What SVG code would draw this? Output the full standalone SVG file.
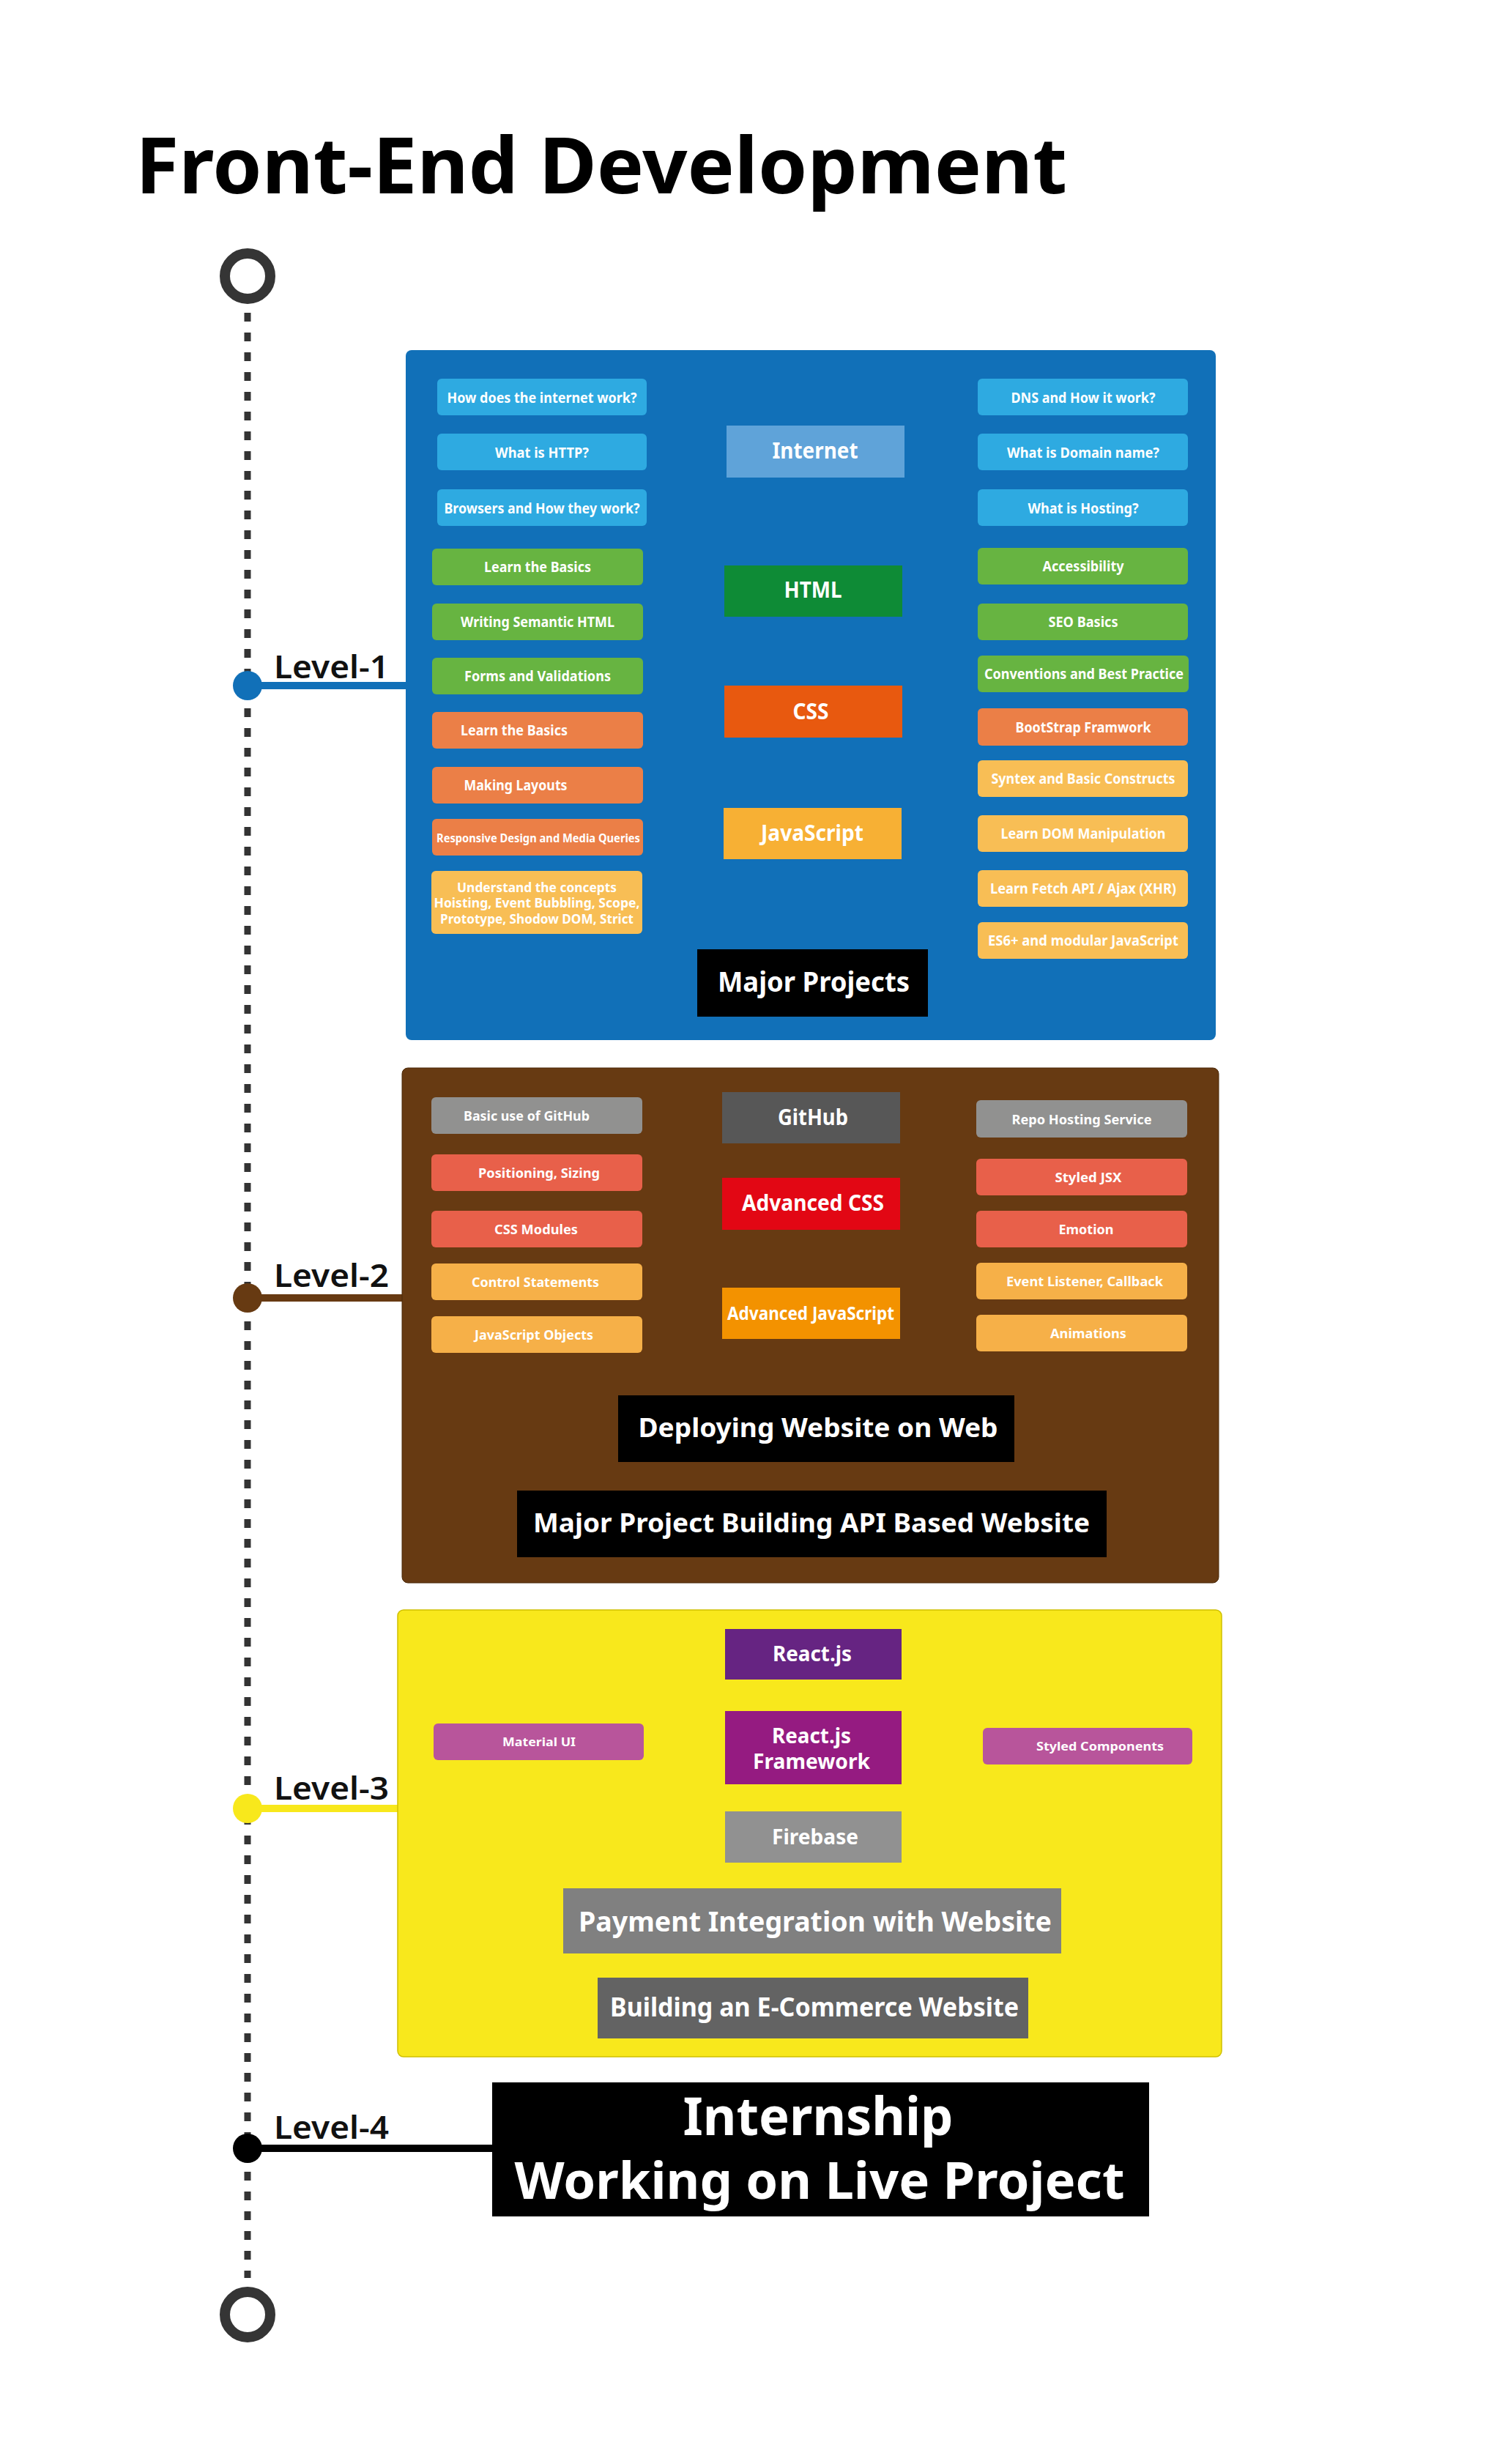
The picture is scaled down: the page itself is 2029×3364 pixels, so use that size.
<svg xmlns="http://www.w3.org/2000/svg" width="2029" height="3364" viewBox="0 0 2029 3364">
<style>
text { font-family: "Noto Sans", "Open Sans", "DejaVu Sans", sans-serif; font-weight: 700; fill: #ffffff; text-anchor: middle; }
.it { font-size: 19px; }
.it2 { font-size: 18px; }
.sm { font-size: 16.5px; }
.ctr { font-size: 30px; }
.ctr2 { font-size: 28px; }
.big { font-size: 37px; }
.huge { font-size: 72px; }
.lvl { font-size: 44px; font-weight: 600; fill: #111111; text-anchor: start; }
.title { font-size: 106px; fill: #000000; text-anchor: start; }
.lb { fill: #2eaae1; }
.gr { fill: #67b441; }
.or { fill: #eb7f47; }
.ye { fill: #f8be55; }
.gy { fill: #919190; }
.rd { fill: #e8604a; }
.yo { fill: #f6b048; }
.mg { fill: #b8559b; }
.blk { fill: #000000; }
</style>
<rect x="0" y="0" width="2029" height="3364" fill="#ffffff"/>

<g id="title">
<text class="title" x="185" y="264" textLength="1272" lengthAdjust="spacingAndGlyphs">Front-End Development</text>
</g>

<g id="connectors">
<line x1="338" y1="427" x2="338" y2="3110" stroke="#333333" stroke-width="9" stroke-dasharray="12 15"/>
<line x1="338" y1="936" x2="556" y2="936" stroke="#1170b8" stroke-width="10"/>
<line x1="338" y1="1772" x2="551" y2="1772" stroke="#673a12" stroke-width="10"/>
<line x1="338" y1="2469" x2="545" y2="2469" stroke="#f8e81c" stroke-width="10"/>
<line x1="338" y1="2933" x2="674" y2="2933" stroke="#000000" stroke-width="10"/>
</g>

<g id="start">
<circle cx="338" cy="377" r="31" fill="#ffffff" stroke="#353535" stroke-width="14"/>
</g>
<g id="end">
<circle cx="338" cy="3160" r="31" fill="#ffffff" stroke="#353535" stroke-width="14"/>
</g>

<g id="level-1-marker">
<circle cx="338" cy="936" r="20" fill="#1170b8"/>
<text class="lvl" x="374" y="926" textLength="157" lengthAdjust="spacingAndGlyphs">Level-1</text>
</g>
<g id="level-2-marker">
<circle cx="338" cy="1772" r="20" fill="#673a12"/>
<text class="lvl" x="374" y="1757" textLength="157" lengthAdjust="spacingAndGlyphs">Level-2</text>
</g>
<g id="level-3-marker">
<circle cx="338" cy="2469" r="20" fill="#f8e81c"/>
<text class="lvl" x="374" y="2457" textLength="157" lengthAdjust="spacingAndGlyphs">Level-3</text>
</g>
<g id="level-4-marker">
<circle cx="338" cy="2933" r="20" fill="#000000"/>
<text class="lvl" x="374" y="2920" textLength="157" lengthAdjust="spacingAndGlyphs">Level-4</text>
</g>

<!-- LEVEL 1 -->
<g id="level-1">
<rect x="554" y="478" width="1106" height="942" rx="8" fill="#1170b8"/>

<g id="n-internet-work"><rect class="lb" x="597" y="517" width="286" height="50" rx="6"/><text class="it" x="740" y="550" textLength="259" lengthAdjust="spacingAndGlyphs">How does the internet work?</text></g>
<g id="n-http"><rect class="lb" x="597" y="592" width="286" height="50" rx="6"/><text class="it" x="740" y="625" textLength="128" lengthAdjust="spacingAndGlyphs">What is HTTP?</text></g>
<g id="n-browsers"><rect class="lb" x="597" y="668" width="286" height="50" rx="6"/><text class="it" x="740" y="701" textLength="267" lengthAdjust="spacingAndGlyphs">Browsers and How they work?</text></g>
<g id="n-html-basics"><rect class="gr" x="590" y="749" width="288" height="50" rx="6"/><text class="it" x="734" y="781" textLength="146" lengthAdjust="spacingAndGlyphs">Learn the Basics</text></g>
<g id="n-semantic"><rect class="gr" x="590" y="824" width="288" height="50" rx="6"/><text class="it" x="734" y="856" textLength="210" lengthAdjust="spacingAndGlyphs">Writing Semantic HTML</text></g>
<g id="n-forms"><rect class="gr" x="590" y="898" width="288" height="50" rx="6"/><text class="it" x="734" y="930" textLength="200" lengthAdjust="spacingAndGlyphs">Forms and Validations</text></g>
<g id="n-css-basics"><rect class="or" x="590" y="972" width="288" height="50" rx="6"/><text class="it" x="702" y="1004" textLength="146" lengthAdjust="spacingAndGlyphs">Learn the Basics</text></g>
<g id="n-layouts"><rect class="or" x="590" y="1047" width="288" height="50" rx="6"/><text class="it" x="704" y="1079" textLength="141" lengthAdjust="spacingAndGlyphs">Making Layouts</text></g>
<g id="n-responsive"><rect class="or" x="590" y="1118" width="288" height="50" rx="6"/><text class="sm" x="735" y="1150" textLength="278" lengthAdjust="spacingAndGlyphs">Responsive Design and Media Queries</text></g>
<g id="n-concepts"><rect class="ye" x="589" y="1189" width="288" height="86" rx="6"/>
<text class="it2" x="733" y="1218" textLength="218" lengthAdjust="spacingAndGlyphs">Understand the concepts</text>
<text class="it2" x="733" y="1239" textLength="281" lengthAdjust="spacingAndGlyphs">Hoisting, Event Bubbling, Scope,</text>
<text class="it2" x="733" y="1261" textLength="264" lengthAdjust="spacingAndGlyphs">Prototype, Shodow DOM, Strict</text></g>

<g id="n-internet"><rect x="992" y="581" width="243" height="71" fill="#5fa3d9"/><text class="ctr" x="1113" y="626" textLength="117" lengthAdjust="spacingAndGlyphs">Internet</text></g>
<g id="n-html"><rect x="989" y="772" width="243" height="70" fill="#0e8b36"/><text class="ctr" x="1110" y="816" textLength="79" lengthAdjust="spacingAndGlyphs">HTML</text></g>
<g id="n-css"><rect x="989" y="936" width="243" height="71" fill="#e8590f"/><text class="ctr" x="1107" y="982" textLength="49" lengthAdjust="spacingAndGlyphs">CSS</text></g>
<g id="n-javascript"><rect x="988" y="1103" width="243" height="70" fill="#f7b034"/><text class="ctr" x="1109" y="1148" textLength="140" lengthAdjust="spacingAndGlyphs">JavaScript</text></g>
<g id="n-major-projects"><rect class="blk" x="952" y="1296" width="315" height="92"/><text class="big" style="font-size:38px" x="1111" y="1354" textLength="262" lengthAdjust="spacingAndGlyphs">Major Projects</text></g>

<g id="n-dns"><rect class="lb" x="1335" y="517" width="287" height="50" rx="6"/><text class="it" x="1479" y="550" textLength="197" lengthAdjust="spacingAndGlyphs">DNS and How it work?</text></g>
<g id="n-domain"><rect class="lb" x="1335" y="592" width="287" height="50" rx="6"/><text class="it" x="1479" y="625" textLength="208" lengthAdjust="spacingAndGlyphs">What is Domain name?</text></g>
<g id="n-hosting"><rect class="lb" x="1335" y="668" width="287" height="50" rx="6"/><text class="it" x="1479" y="701" textLength="151" lengthAdjust="spacingAndGlyphs">What is Hosting?</text></g>
<g id="n-accessibility"><rect class="gr" x="1335" y="748" width="287" height="50" rx="6"/><text class="it" x="1479" y="780" textLength="111" lengthAdjust="spacingAndGlyphs">Accessibility</text></g>
<g id="n-seo"><rect class="gr" x="1335" y="824" width="287" height="50" rx="6"/><text class="it" x="1479" y="856" textLength="95" lengthAdjust="spacingAndGlyphs">SEO Basics</text></g>
<g id="n-conventions"><rect class="gr" x="1335" y="895" width="288" height="50" rx="6"/><text class="it" x="1480" y="927" textLength="272" lengthAdjust="spacingAndGlyphs">Conventions and Best Practice</text></g>
<g id="n-bootstrap"><rect class="or" x="1335" y="967" width="287" height="51" rx="6"/><text class="it" x="1479" y="1000" textLength="185" lengthAdjust="spacingAndGlyphs">BootStrap Framwork</text></g>
<g id="n-syntax"><rect class="ye" x="1335" y="1038" width="287" height="50" rx="6"/><text class="it" x="1479" y="1070" textLength="251" lengthAdjust="spacingAndGlyphs">Syntex and Basic Constructs</text></g>
<g id="n-dom"><rect class="ye" x="1335" y="1113" width="287" height="50" rx="6"/><text class="it" x="1479" y="1145" textLength="225" lengthAdjust="spacingAndGlyphs">Learn DOM Manipulation</text></g>
<g id="n-fetch"><rect class="ye" x="1335" y="1188" width="287" height="50" rx="6"/><text class="it" x="1479" y="1220" textLength="254" lengthAdjust="spacingAndGlyphs">Learn Fetch API / Ajax (XHR)</text></g>
<g id="n-es6"><rect class="ye" x="1335" y="1259" width="287" height="50" rx="6"/><text class="it" x="1479" y="1291" textLength="260" lengthAdjust="spacingAndGlyphs">ES6+ and modular JavaScript</text></g>
</g>

<!-- LEVEL 2 -->
<g id="level-2">
<rect x="549" y="1458" width="1115" height="703" rx="8" fill="#673a12" stroke="#4a2808" stroke-width="1"/>

<g id="n-github-basic"><rect class="gy" x="589" y="1498" width="288" height="50" rx="6"/><text class="it2" x="719" y="1530" textLength="172" lengthAdjust="spacingAndGlyphs">Basic use of GitHub</text></g>
<g id="n-positioning"><rect class="rd" x="589" y="1576" width="288" height="50" rx="6"/><text class="it2" x="736" y="1608" textLength="166" lengthAdjust="spacingAndGlyphs">Positioning, Sizing</text></g>
<g id="n-css-modules"><rect class="rd" x="589" y="1653" width="288" height="50" rx="6"/><text class="it2" x="732" y="1685" textLength="114" lengthAdjust="spacingAndGlyphs">CSS Modules</text></g>
<g id="n-control"><rect class="yo" x="589" y="1725" width="288" height="50" rx="6"/><text class="it2" x="731" y="1757" textLength="174" lengthAdjust="spacingAndGlyphs">Control Statements</text></g>
<g id="n-js-objects"><rect class="yo" x="589" y="1797" width="288" height="50" rx="6"/><text class="it2" x="729" y="1829" textLength="162" lengthAdjust="spacingAndGlyphs">JavaScript Objects</text></g>

<g id="n-github"><rect x="986" y="1491" width="243" height="70" fill="#575757"/><text class="ctr" x="1110" y="1536" textLength="96" lengthAdjust="spacingAndGlyphs">GitHub</text></g>
<g id="n-adv-css"><rect x="986" y="1608" width="243" height="71" fill="#e20714"/><text class="ctr" x="1110" y="1653" textLength="194" lengthAdjust="spacingAndGlyphs">Advanced CSS</text></g>
<g id="n-adv-js"><rect x="986" y="1758" width="243" height="70" fill="#f39200"/><text style="font-size:25px" x="1107" y="1802" textLength="228" lengthAdjust="spacingAndGlyphs">Advanced JavaScript</text></g>

<g id="n-repo-hosting"><rect class="gy" x="1333" y="1502" width="288" height="51" rx="6"/><text class="it2" x="1477" y="1535" textLength="191" lengthAdjust="spacingAndGlyphs">Repo Hosting Service</text></g>
<g id="n-styled-jsx"><rect class="rd" x="1333" y="1582" width="288" height="50" rx="6"/><text class="it2" x="1486" y="1614" textLength="91" lengthAdjust="spacingAndGlyphs">Styled JSX</text></g>
<g id="n-emotion"><rect class="rd" x="1333" y="1653" width="288" height="50" rx="6"/><text class="it2" x="1483" y="1685" textLength="75" lengthAdjust="spacingAndGlyphs">Emotion</text></g>
<g id="n-event"><rect class="yo" x="1333" y="1724" width="288" height="50" rx="6"/><text class="it2" x="1481" y="1756" textLength="214" lengthAdjust="spacingAndGlyphs">Event Listener, Callback</text></g>
<g id="n-animations"><rect class="yo" x="1333" y="1795" width="288" height="50" rx="6"/><text class="it2" x="1486" y="1827" textLength="104" lengthAdjust="spacingAndGlyphs">Animations</text></g>

<g id="n-deploying"><rect class="blk" x="844" y="1905" width="541" height="91"/><text style="font-size:36px" x="1117" y="1962" textLength="491" lengthAdjust="spacingAndGlyphs">Deploying Website on Web</text></g>
<g id="n-api-website"><rect class="blk" x="706" y="2035" width="805" height="91"/><text style="font-size:35px" x="1108" y="2092" textLength="760" lengthAdjust="spacingAndGlyphs">Major Project Building API Based Website</text></g>
</g>

<!-- LEVEL 3 -->
<g id="level-3">
<rect x="543" y="2198" width="1125" height="610" rx="8" fill="#f8e81c" stroke="#cfc000" stroke-width="1.5"/>

<g id="n-react"><rect x="990" y="2224" width="241" height="69" fill="#662482"/><text class="ctr2" x="1109" y="2268" textLength="108" lengthAdjust="spacingAndGlyphs">React.js</text></g>
<g id="n-react-framework"><rect x="990" y="2336" width="241" height="100" fill="#951b81"/>
<text class="ctr2" x="1108" y="2380" textLength="108" lengthAdjust="spacingAndGlyphs">React.js</text>
<text class="ctr2" x="1108" y="2415" textLength="160" lengthAdjust="spacingAndGlyphs">Framework</text></g>
<g id="n-firebase"><rect x="990" y="2473" width="241" height="70" fill="#919191"/><text class="ctr2" x="1113" y="2518" textLength="118" lengthAdjust="spacingAndGlyphs">Firebase</text></g>
<g id="n-material-ui"><rect class="mg" x="592" y="2353" width="287" height="50" rx="6"/><text class="sm" x="736" y="2384" textLength="100" lengthAdjust="spacingAndGlyphs">Material UI</text></g>
<g id="n-styled-components"><rect class="mg" x="1342" y="2359" width="286" height="50" rx="6"/><text class="sm" x="1502" y="2390" textLength="174" lengthAdjust="spacingAndGlyphs">Styled Components</text></g>
<g id="n-payment"><rect x="769" y="2578" width="680" height="89" fill="#808080"/><text class="big" x="1113" y="2637" textLength="646" lengthAdjust="spacingAndGlyphs">Payment Integration with Website</text></g>
<g id="n-ecommerce"><rect x="816" y="2700" width="588" height="83" fill="#636363"/><text style="font-size:35px" x="1112" y="2753" textLength="558" lengthAdjust="spacingAndGlyphs">Building an E-Commerce Website</text></g>
</g>

<!-- LEVEL 4 -->
<g id="level-4">
<rect x="672" y="2843" width="897" height="183" fill="#000000"/>
<text class="huge" x="1117" y="2915" textLength="369" lengthAdjust="spacingAndGlyphs">Internship</text>
<text style="font-size:70px" x="1119" y="3002" textLength="833" lengthAdjust="spacingAndGlyphs">Working on Live Project</text>
</g>
</svg>
